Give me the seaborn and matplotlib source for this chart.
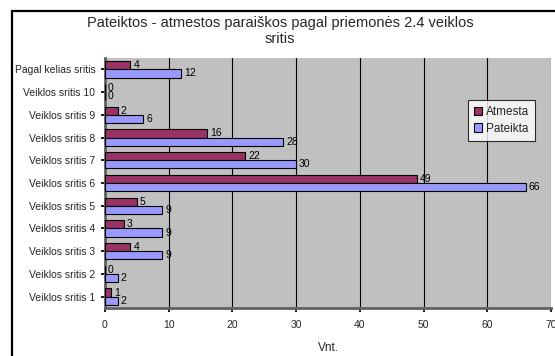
import matplotlib
matplotlib.use("Agg")
import matplotlib.pyplot as plt
from matplotlib.patches import Rectangle
import pandas as pd
import seaborn as sns

categories = ["Pagal kelias sritis", "Veiklos sritis 10", "Veiklos sritis 9",
              "Veiklos sritis 8", "Veiklos sritis 7", "Veiklos sritis 6",
              "Veiklos sritis 5", "Veiklos sritis 4", "Veiklos sritis 3",
              "Veiklos sritis 2", "Veiklos sritis 1"]
atmesta = [4, 0, 2, 16, 22, 49, 5, 3, 4, 0, 1]
pateikta = [12, 0, 6, 28, 30, 66, 9, 9, 9, 2, 2]
series = ["Atmesta", "Pateikta"]
x_ticks = [0, 10, 20, 30, 40, 50, 60, 70]

df = pd.DataFrame({
    "sritis": categories * 2,
    "serija": [series[0]] * len(categories) + [series[1]] * len(categories),
    "vnt": atmesta + pateikta,
})

sns.set_theme(style="white")
plt.rcParams["font.family"] = ["Liberation Sans", "DejaVu Sans"]

W, H = 555, 356
fig = plt.figure(figsize=(W / 100, H / 100), dpi=100)
ax = fig.add_axes([105 / W, 1 - 308 / H, (551 - 105) / W, (308 - 58) / H])

# outer chart frame
fig.patches.append(Rectangle((12 / W, -0.05), 1.2, (H - 11) / H + 0.05,
                             transform=fig.transFigure, fill=False,
                             edgecolor="black", linewidth=1.6, zorder=10))

ax.set_facecolor("#C0C0C0")
palette = {"Atmesta": "#993366", "Pateikta": "#9999FF"}
sns.barplot(data=df, y="sritis", x="vnt", hue="serija", order=categories,
            hue_order=series, palette=palette, orient="h", width=0.72,
            gap=0.0, edgecolor="black", linewidth=0.8, saturation=1,
            ax=ax, zorder=3)

for cont in ax.containers:
    ax.bar_label(cont, fmt="%d", padding=2, fontsize=7.5, color="black")

ax.set_xlim(0, 70)
ax.set_xticks(x_ticks)
ax.set_xticklabels([str(t) for t in x_ticks], fontsize=7.5)
ax.tick_params(axis="y", labelsize=7.5, length=3, color="black", pad=4, left=True)
ax.tick_params(axis="x", length=3, color="black", pad=6, bottom=True)
ax.grid(axis="x", color="black", linewidth=0.8, zorder=1)
ax.set_axisbelow(True)
ax.set_ylabel("")
ax.set_xlabel("Vnt.", fontsize=8.5, labelpad=8)
for side in ["top", "right"]:
    ax.spines[side].set_visible(False)
ax.spines["left"].set_color("#606060")
ax.spines["left"].set_linewidth(2.0)
ax.spines["bottom"].set_color("#606060")
ax.spines["bottom"].set_linewidth(2.0)

fig.text(280 / W, 1 - 31 / H,
         "Pateiktos - atmestos paraiškos pagal priemonės 2.4 veiklos\nsritis",
         ha="center", va="center", fontsize=10.5, linespacing=1.25)

leg = ax.legend(loc="upper left", bbox_to_anchor=((468 - 105) / (551 - 105), 1 - (100 - 58) / 250),
                fontsize=8.5, frameon=True, fancybox=False, edgecolor="black",
                handlelength=0.7, handleheight=0.7, handletextpad=0.3,
                borderpad=0.5, labelspacing=0.4, borderaxespad=0)
leg.get_frame().set_linewidth(0.8)
leg.get_frame().set_facecolor("white")
leg.set_zorder(12)

fig.savefig("out.png", dpi=100)
